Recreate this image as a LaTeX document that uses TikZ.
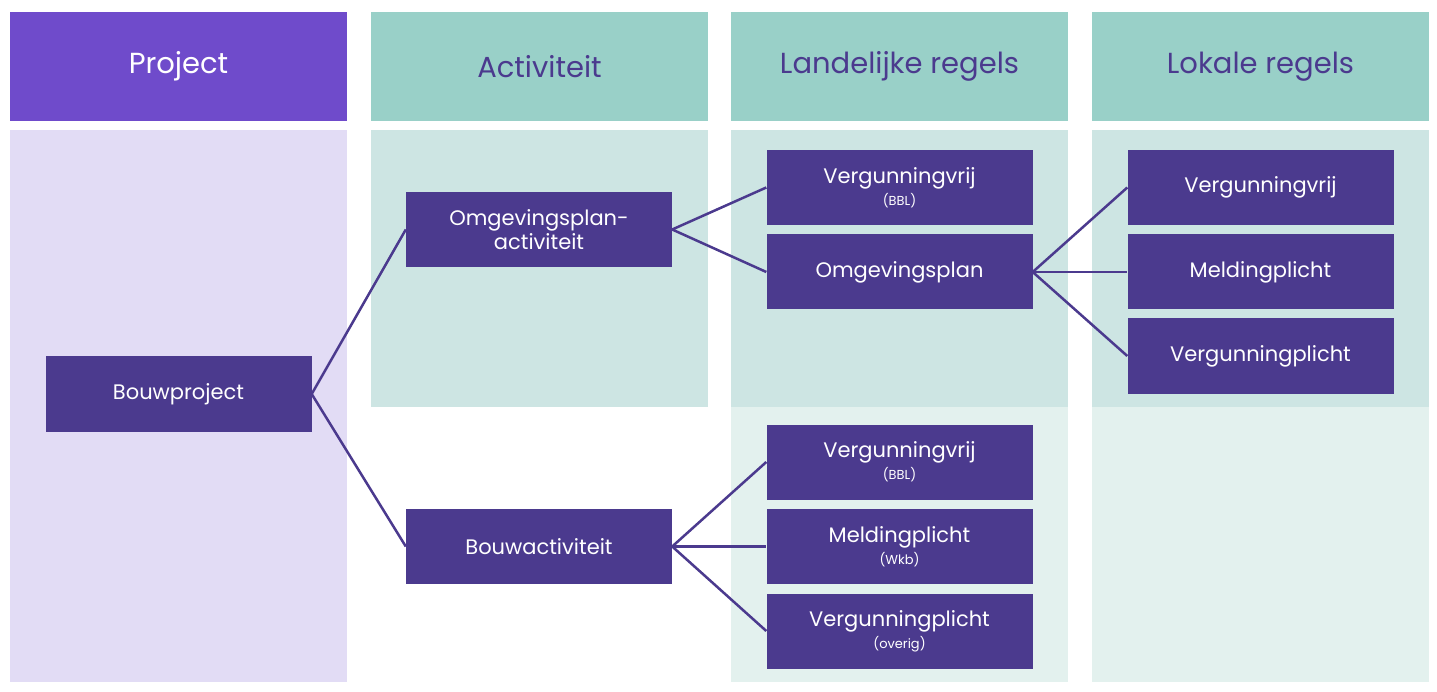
\documentclass[tikz,border=0pt]{standalone}
\usepackage{fontspec}
\setmainfont{Poppins}
\definecolor{hp}{HTML}{6F4BCB}
\definecolor{ht}{HTML}{99D0C8}
\definecolor{nd}{HTML}{4B3A8E}
\definecolor{lv}{HTML}{E2DCF5}
\definecolor{tl}{HTML}{CDE5E3}
\definecolor{tl2}{HTML}{E3F1EE}
\newcommand\smtxt{\fontsize{13}{15}\selectfont}
\tikzset{
 box/.style={fill=nd,text=white,minimum width=266pt,minimum height=75pt,inner sep=0pt,align=center,font=\fontsize{21}{24}\selectfont},
 hdr/.style={minimum width=337pt,minimum height=109pt,inner sep=0pt,font=\fontsize{29}{32}\selectfont},
 ln/.style={draw=nd,line width=2.5pt}
}
\begin{document}
\begin{tikzpicture}[x=1pt,y=-1pt]
\useasboundingbox[fill=white] (0,0) rectangle (1437,692);
% backgrounds
\fill[lv] (10,130) rectangle (347,682);
\fill[tl] (371,130) rectangle (708,407);
\fill[tl] (731,130) rectangle (1068,407);
\fill[tl2] (731,407) rectangle (1068,682);
\fill[tl] (1092,130) rectangle (1429,407);
\fill[tl2] (1092,407) rectangle (1429,682);
% headers
\node[hdr,fill=hp,text=white] (h1) at (178.5,66.5) {Project};
\node[hdr,fill=ht,text=nd] (h2) at (539.5,66.5) {Activiteit};
\node[hdr,fill=ht,text=nd] (h3) at (899.5,66.5) {Landelijke regels};
\node[hdr,fill=ht,text=nd] (h4) at (1260.5,66.5) {Lokale regels};
% nodes
\node[box] (bp) at (178.5,394) {Bouwproject};
\node[box] (oa) at (539,229.5) {Omgevingsplan-\\activiteit};
\node[box] (ba) at (539,546.5) {Bouwactiviteit};
\node[box] (v1) at (899.5,187.5) {Vergunningvrij\\[-2pt]{\smtxt (BBL)}};
\node[box] (op) at (899.5,272) {Omgevingsplan};
\node[box] (v2) at (899.5,462) {Vergunningvrij\\[-2pt]{\smtxt (BBL)}};
\node[box] (m2) at (899.5,546.5) {Meldingplicht\\[-2pt]{\smtxt (Wkb)}};
\node[box] (p2) at (899.5,631) {Vergunningplicht\\[-2pt]{\smtxt (overig)}};
\node[box] (lv1) at (1260.5,187.5) {Vergunningvrij};
\node[box] (lm) at (1260.5,272) {Meldingplicht};
\node[box] (lp) at (1260.5,356) {Vergunningplicht};
% connectors
\draw[ln] (bp.east) -- (oa.west);
\draw[ln] (bp.east) -- (ba.west);
\draw[ln] (oa.east) -- (v1.west);
\draw[ln] (oa.east) -- (op.west);
\draw[ln] (ba.east) -- (v2.west);
\draw[ln] (ba.east) -- (m2.west);
\draw[ln] (ba.east) -- (p2.west);
\draw[ln] (op.east) -- (lv1.west);
\draw[ln] (op.east) -- (lm.west);
\draw[ln] (op.east) -- (lp.west);
\end{tikzpicture}
\end{document}
